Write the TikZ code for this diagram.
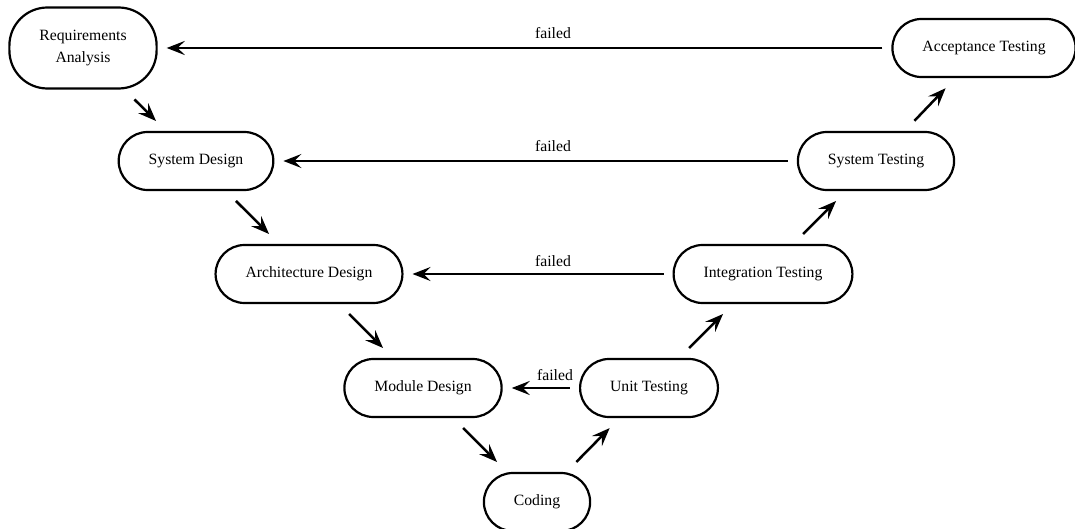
\documentclass[tikz,border=0pt]{standalone}
\usepackage{fontspec}
\setmainfont{Liberation Serif}
\usetikzlibrary{arrows.meta}
\begin{document}
\begin{tikzpicture}[x=1pt,y=-1pt,
  stage/.style={draw, line width=2.2pt, rounded corners=29pt, inner xsep=30pt,
    inner ysep=16pt, minimum height=58pt, align=center,
    font=\fontsize{15.7}{22}\selectfont},
  flow/.style={-{Stealth[length=18pt,width=14pt,inset=7pt]}, line width=2.5pt,
    shorten >=14pt, shorten <=14pt},
  back/.style={flow, shorten >=9pt, shorten <=9pt},
  lbl/.style={anchor=base, inner sep=0pt, font=\fontsize{15.7}{19}\selectfont}]
\useasboundingbox (0,0) rectangle (1075,529);

% descending branch
\node[stage, minimum height=81pt, rounded corners=38pt] (req) at (83,48) {Requirements\\Analysis};
\node[stage] (sys)   at (196,161) {System Design};
\node[stage] (arch)  at (309,274) {Architecture Design};
\node[stage] (mod)   at (423,388) {Module Design};
\node[stage] (code)  at (537,502) {Coding};
% ascending branch
\node[stage] (unit)    at (649,388) {Unit Testing};
\node[stage] (integ)   at (763,274) {Integration Testing};
\node[stage] (systest) at (876,161) {System Testing};
\node[stage] (accept)  at (984,48)  {Acceptance Testing};

\draw[flow] (req) -- (sys);
\draw[flow] (sys) -- (arch);
\draw[flow] (arch) -- (mod);
\draw[flow] (mod) -- (code);
\draw[flow] (code) -- (unit);
\draw[flow] (unit) -- (integ);
\draw[flow] (integ) -- (systest);
\draw[flow] (systest) -- (accept);

% feedback on failure
\draw[back] (accept) -- (req);
\draw[back] (systest) -- (sys);
\draw[back] (integ) -- (arch);
\draw[back] (unit) -- (mod);
\node[lbl] (f1) at (553,39)  {failed};
\node[lbl] (f2) at (553,152) {failed};
\node[lbl] (f3) at (553,266) {failed};
\node[lbl] (f4) at (555,380) {failed};
\end{tikzpicture}
\end{document}
